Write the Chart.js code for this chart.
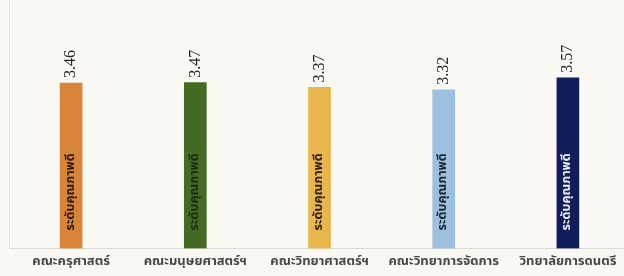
<!DOCTYPE html>
<html>
<head>
<meta charset="utf-8">
<script src="https://cdn.jsdelivr.net/npm/chart.js@4"></script>
<style>
  html, body { margin: 0; padding: 0; background: #faf8f3; overflow: hidden; }
  #wrap { width: 640px; height: 276px; position: relative; }
</style>
</head>
<body>
<div id="wrap"><canvas id="c"></canvas></div>
<script>
// ─── Data ─────────────────────────────────────────────────────────
const faculties = ['คณะครุศาสตร์', 'คณะมนุษยศาสตร์ฯ', 'คณะวิทยาศาสตร์ฯ', 'คณะวิทยาการจัดการ', 'วิทยาลัยการดนตรี'];
const scores    = [3.46, 3.47, 3.37, 3.32, 3.57];
const levels    = ['ระดับคุณภาพดี', 'ระดับคุณภาพดี', 'ระดับคุณภาพดี', 'ระดับคุณภาพดี', 'ระดับคุณภาพดี'];
const barColors = ['#d8843a', '#456a24', '#e8b64c', '#9dbfe0', '#141d5c'];
const inkColors = ['#2a1a0c', '#1c2a10', '#2a200c', '#1a2430', '#e8ecf5'];

const THAI = '"Noto Sans Thai", "Noto Sans", Tahoma, sans-serif';

// ─── Rotated labels (value above, level inside) ───────────────────
const rotLabels = {
  id: 'rotLabels',
  afterDatasetsDraw(chart) {
    const { ctx } = chart;
    const meta = chart.getDatasetMeta(0);
    meta.data.forEach((bar, i) => {
      // value above bar
      ctx.save();
      ctx.translate(bar.x, bar.y - 5);
      ctx.rotate(-Math.PI / 2);
      ctx.font = '16px "Liberation Serif", serif';
      ctx.fillStyle = '#222';
      ctx.textAlign = 'left';
      ctx.textBaseline = 'middle';
      ctx.fillText(scores[i].toFixed(2), 0, 0);
      ctx.restore();

      // level text inside bar, near the base
      ctx.save();
      ctx.translate(bar.x, bar.base - 18);
      ctx.rotate(-Math.PI / 2);
      ctx.font = 'bold 12.5px ' + THAI;
      ctx.fillStyle = inkColors[i];
      ctx.textAlign = 'left';
      ctx.textBaseline = 'middle';
      ctx.fillText(levels[i], 0, 0);
      ctx.restore();
    });
  }
};

new Chart(document.getElementById('c'), {
  type: 'bar',
  data: {
    labels: faculties,
    datasets: [{
      data: scores,
      backgroundColor: barColors,
      borderWidth: 0,
      barThickness: 22,
    }],
  },
  options: {
    responsive: true,
    maintainAspectRatio: false,
    animation: false,
    layout: { padding: { left: 9, right: 10, top: 0, bottom: 0 } },
    plugins: {
      legend: { display: false },
      tooltip: { enabled: false },
    },
    scales: {
      x: {
        grid: { display: false, drawTicks: false },
        border: { color: '#dcdad4', width: 1 },
        ticks: {
          color: '#474747',
          padding: 6,
          maxRotation: 0,
          autoSkip: false,
          font: { size: 13, family: THAI, weight: 'bold' },
        },
      },
      y: {
        min: 0,
        max: 5.2,
        grid: { display: false, drawTicks: false },
        border: { color: '#e4e2dc', width: 1 },
        ticks: { display: false },
      },
    },
  },
  plugins: [rotLabels],
});
</script>
</body>
</html>
